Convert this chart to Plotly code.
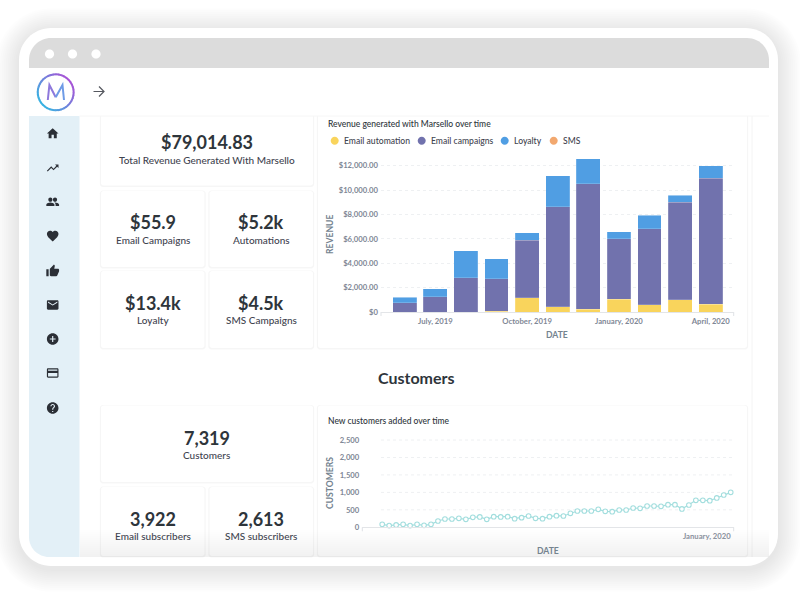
import re
import math
import pandas as pd
import plotly.graph_objects as go

# ---------- data ----------
months = ["June, 2019", "July, 2019", "August, 2019", "September, 2019", "October, 2019", "November, 2019",
          "December, 2019", "January, 2020", "February, 2020", "March, 2020", "April, 2020"]
email_automation = [0, 0, 0, 80, 1170, 430, 220, 1050, 600, 1020, 640]
email_campaigns = [750, 1270, 2800, 2640, 4730, 8190, 10320, 4940, 6230, 7980, 10350]
loyalty = [450, 650, 2230, 1660, 620, 2550, 2040, 610, 1090, 570, 1000]
sms = [0, 0, 0, 0, 0, 0, 0, 0, 0, 0, 0]
revenue_ticks = [0, 2000, 4000, 6000, 8000, 10000, 12000]
revenue_labels = ["$0", "$2,000.00", "$4,000.00", "$6,000.00", "$8,000.00", "$10,000.00", "$12,000.00"]
month_ticks = ["July, 2019", "October, 2019", "January, 2020", "April, 2020"]

weeks = pd.date_range("2019-02-09", periods=51, freq="7D")
new_customers = [86, 48, 67, 86, 48, 86, 57, 86, 181, 238, 238, 258, 229, 286, 296, 229, 305, 296, 305, 248, 277, 324,
                 258, 248, 305, 334, 324, 401, 467, 467, 467, 515, 458, 448, 496, 496, 553, 544, 610, 610, 601, 648,
                 648, 525, 639, 773, 773, 763, 840, 925, 1002]
customer_ticks = [0, 500, 1000, 1500, 2000, 2500]
customer_labels = ["0", "500", "1,000", "1,500", "2,000", "2,500"]

legend_names = ["Email automation", "Email campaigns", "Loyalty", "SMS"]
legend_colors = ["#F9D45C", "#7172AD", "#509EE3", "#F2A86F"]
legend_circle_x = [334.7, 421.7, 504.7, 553.7]

kpis = [("$79,014.83", "Total Revenue Generated With Marsello", 207, 142, 160),
        ("$55.9", "Email Campaigns", 153, 222, 239.5),
        ("$5.2k", "Automations", 261, 222, 239.5),
        ("$13.4k", "Loyalty", 153, 303, 320),
        ("$4.5k", "SMS Campaigns", 261, 303, 320),
        ("7,319", "Customers", 207, 438, 455),
        ("3,922", "Email subscribers", 153, 519, 536),
        ("2,613", "SMS subscribers", 261, 519, 536)]
cards = [(101, 108, 313, 185.5), (101, 191, 204.5, 267), (209.5, 191, 313, 267), (101, 271, 204.5, 348),
         (209.5, 271, 313, 348), (318, 108, 747, 348), (101, 405.5, 313, 482), (101, 487, 204.5, 556),
         (209.5, 487, 313, 556), (318, 405.5, 747, 556)]

# ---------- helpers: page pixels to paper coordinates ----------
W, H = 800, 598
INK = "#2E353B"
MUTED = "#7F8896"
LABEL = "#3F444F"
FONT = "Lato"


def fx(x):
    return x / W


def fy(y):
    return 1 - y / H


def to_paper(d):
    out = []
    for tok in re.findall(r"[MLCZ]|-?\d+\.?\d*", d):
        out.append(tok)
    res, is_x = [], True
    for tok in out:
        if tok in "MLCZ":
            res.append(tok)
            is_x = True
        else:
            v = float(tok)
            res.append(f"{fx(v):.5f}" if is_x else f"{fy(v):.5f}")
            is_x = not is_x
    return " ".join(res)


def rrect(x0, y0, x1, y1, r=0, tl=None, tr=None, br=None, bl=None):
    tl = r if tl is None else tl
    tr = r if tr is None else tr
    br = r if br is None else br
    bl = r if bl is None else bl
    k = 0.45
    return (f"M {x0 + tl} {y0} L {x1 - tr} {y0} C {x1 - tr * k} {y0} {x1} {y0 + tr * k} {x1} {y0 + tr} "
            f"L {x1} {y1 - br} C {x1} {y1 - br * k} {x1 - br * k} {y1} {x1 - br} {y1} "
            f"L {x0 + bl} {y1} C {x0 + bl * k} {y1} {x0} {y1 - bl * k} {x0} {y1 - bl} "
            f"L {x0} {y0 + tl} C {x0} {y0 + tl * k} {x0 + tl * k} {y0} {x0 + tl} {y0} Z")


shapes = []


def add_path(d, fill=None, line=None, lw=0, opacity=1, layer="below"):
    shapes.append(dict(type="path", xref="paper", yref="paper", path=to_paper(d), fillcolor=fill or "rgba(0,0,0,0)",
                       line=dict(color=line or "rgba(0,0,0,0)", width=lw), opacity=opacity, layer=layer))


def circle(cx, cy, r):
    c = 0.5523 * r
    return (f"M {cx + r} {cy} C {cx + r} {cy + c} {cx + c} {cy + r} {cx} {cy + r} "
            f"C {cx - c} {cy + r} {cx - r} {cy + c} {cx - r} {cy} C {cx - r} {cy - c} {cx - c} {cy - r} {cx} {cy - r} "
            f"C {cx + c} {cy - r} {cx + r} {cy - c} {cx + r} {cy} Z")


def icon(d, cx, cy, s=0.58, fill="#2B2F36"):
    toks = re.findall(r"[MLCZ]|-?\d+\.?\d*", d)
    res, is_x = [], True
    for t in toks:
        if t in "MLCZ":
            res.append(t)
            is_x = True
        else:
            v = float(t)
            res.append(f"{cx + (v - 12) * s:.3f}" if is_x else f"{cy + (v - 12) * s:.3f}")
            is_x = not is_x
    add_path(" ".join(res), fill=fill)


# ---------- device chrome ----------
for i in range(12, 0, -1):
    g = i * 1.9
    add_path(rrect(19 - g, 28 - g + 3, 778 + g, 566 + g + 3, 32 + g), fill="#000000", opacity=0.008)
add_path(rrect(19, 28, 778, 566, 32), fill="#FFFFFF")
add_path(rrect(29, 38, 769, 68, 0, tl=22, tr=22), fill="#DCDCDC")
for cx in [49.5, 72.5, 96]:
    add_path(circle(cx, 54, 4.6), fill="#FFFFFF")

# sidebar
add_path(rrect(29, 116, 79.5, 557, 0, bl=20), fill="#E3F0F7")
shapes.append(dict(type="line", xref="paper", yref="paper", x0=fx(752), x1=fx(752), y0=fy(116), y1=fy(557),
                   line=dict(color="#F4F4F4", width=1), layer="below"))

# cards
for (x0, y0, x1, y1) in cards:
    add_path(rrect(x0 - 1.2, y0 - 0.6, x1 + 1.2, y1 + 1.6, 3), fill="#000000", opacity=0.035)
    add_path(rrect(x0, y0, x1, y1, 2.5), fill="#FFFFFF")
# header strip above the cards
add_path(rrect(79.5, 68, 769, 116), fill="#FFFFFF")
shapes.append(dict(type="line", xref="paper", yref="paper", x0=fx(79.5), x1=fx(769), y0=fy(116), y1=fy(116),
                   line=dict(color="#F6F6F6", width=1), layer="below"))

# bottom fade over content
for i in range(14):
    y = 530 + i * 2
    add_path(rrect(79.5, y, 769, 557), fill="#E8E8E8", opacity=0.035, layer="above")

# logo ring
N = 40
for i in range(N):
    a0 = 2 * math.pi * i / N
    a1 = 2 * math.pi * (i + 1.2) / N
    t = (math.sin(a0 - math.pi * 0.25) * -1 + 1) / 2  # 0 near upper right
    c0, c1 = (56, 178, 226), (166, 84, 214)
    col = "rgb(%d,%d,%d)" % tuple(int(c0[k] + (c1[k] - c0[k]) * t) for k in range(3))
    add_path(f"M {55.7 + 18 * math.cos(a0)} {92.3 + 18 * math.sin(a0)} L {55.7 + 18 * math.cos(a1)} {92.3 + 18 * math.sin(a1)}",
             line=col, lw=2)
add_path("M 47.8 100 L 49.4 85 L 55.7 97.3", line="#8E78DC", lw=2)
add_path("M 55.7 97.3 L 62.5 85 L 64 100", line="#6E9BE6", lw=2)

# back arrow
add_path("M 93.5 91.5 L 104 91.5 M 99 86.5 L 104 91.5 L 99 96.5", line="#55585F", lw=1.2)

# nav icons
HOME = "M10 20 L10 14 L14 14 L14 20 L19 20 L19 12 L22 12 L12 3 L2 12 L5 12 L5 20 Z"
TREND = "M16 6 L18.29 8.29 L13.41 13.17 L9.41 9.17 L2 16.59 L3.41 18 L9.41 12 L13.41 16 L19.71 9.71 L22 12 L22 6 Z"
PEOPLE = (circle(8, 8, 3.6) + " " + circle(16, 8, 3.6) +
          " M1 19 L1 16.5 C1 14.2 5.7 13 8 13 C10.3 13 15 14.2 15 16.5 L15 19 Z"
          " M17 19 L23 19 L23 16.5 C23 14.2 18.3 13 16 13 C15.7 13 15.4 13 15 13.1 C16.2 13.9 17 15 17 16.5 Z")
HEART = ("M12 21.35 L10.55 20.03 C5.4 15.36 2 12.28 2 8.5 C2 5.42 4.42 3 7.5 3 C9.24 3 10.91 3.81 12 5.09 "
         "C13.09 3.81 14.76 3 16.5 3 C19.58 3 22 5.42 22 8.5 C22 12.28 18.6 15.36 13.45 20.04 Z")
THUMB = ("M1 21 L5 21 L5 9 L1 9 Z M23 10 C23 8.9 22.1 8 21 8 L14.69 8 L15.64 3.43 L15.67 3.11 C15.67 2.7 15.5 2.32 15.23 2.05 "
         "L14.17 1 L7.59 7.59 C7.22 7.95 7 8.45 7 9 L7 19 C7 20.1 7.9 21 9 21 L18 21 C18.83 21 19.54 20.5 19.84 19.78 "
         "L22.86 12.73 C22.95 12.5 23 12.26 23 12 Z")
MAIL = ("M20 4 L4 4 C2.9 4 2 4.9 2 6 L2 18 C2 19.1 2.9 20 4 20 L20 20 C21.1 20 22 19.1 22 18 L22 6 C22 4.9 21.1 4 20 4 Z "
        "M20 8 L12 13 L4 8 L4 6 L12 11 L20 6 Z")
PLUS = circle(12, 12, 10) + " M13 7 L11 7 L11 11 L7 11 L7 13 L11 13 L11 17 L13 17 L13 13 L17 13 L17 11 L13 11 Z"
CARD = ("M20 4 L4 4 C2.9 4 2 4.9 2 6 L2 18 C2 19.1 2.9 20 4 20 L20 20 C21.1 20 22 19.1 22 18 L22 6 C22 4.9 21.1 4 20 4 Z "
        "M20 18 L4 18 L4 12 L20 12 Z M20 8 L4 8 L4 6 L20 6 Z")
QUESTION = (circle(12, 12, 10) + " M13 19 L11 19 L11 17 L13 17 Z M15.07 11.25 L14.17 12.17 C13.45 12.9 13 13.5 13 15 L11 15 "
            "L11 14.5 C11 13.4 11.45 12.4 12.17 11.67 L13.41 10.41 C13.78 10.05 14 9.55 14 9 C14 7.9 13.1 7 12 7 "
            "C10.9 7 10 7.9 10 9 L8 9 C8 6.79 9.79 5 12 5 C14.21 5 16 6.79 16 9 C16 9.88 15.64 10.68 15.07 11.25 Z")
for d, cy in zip([HOME, TREND, PEOPLE, HEART, THUMB, MAIL, PLUS, CARD, QUESTION],
                 [133.5, 168, 202, 236, 271, 305, 339, 373, 408]):
    icon(d, 52.7, cy)

# legend dots
for cx, col in zip(legend_circle_x, legend_colors):
    add_path(circle(cx, 140.7, 4), fill=col)

# axis end caps
for x, y in [(381, 312), (733.7, 312), (362.3, 527.3), (733.7, 527.3)]:
    shapes.append(dict(type="line", xref="paper", yref="paper", x0=fx(x), x1=fx(x), y0=fy(y), y1=fy(y + 4),
                       line=dict(color="#DFE2E6", width=1), layer="below"))

# customers chart grid: starts at the first point, not at the axis start
for v in customer_ticks[1:]:
    shapes.append(dict(type="line", xref="paper", yref="y2", x0=fx(381), x1=fx(733.7), y0=v, y1=v,
                       line=dict(color="#EEF0F2", width=1, dash="dot"), layer="below"))

# ---------- annotations ----------
ann = []


def text(s, x, y, size, color, weight=400, anchor="center", angle=0):
    ann.append(dict(text=s, x=fx(x), y=fy(y), xref="paper", yref="paper", xanchor=anchor, yanchor="middle",
                    showarrow=False, font=dict(family=FONT, size=size, color=color, weight=weight),
                    borderpad=0, borderwidth=0, textangle=angle))


for value, label, cx, vy, ly in kpis:
    text(value, cx, vy, 18, INK, 700)
    text(label, cx, ly, 10, LABEL, 500)
text("Customers", 416, 377.5, 16, INK, 700)
text("Revenue generated with Marsello over time", 328, 124, 8.5, INK, 500, "left")
text("New customers added over time", 328, 420.5, 8.5, INK, 500, "left")
for name, cx in zip(legend_names, legend_circle_x):
    text(name, cx + 8.8, 140.7, 8.6, LABEL, 500, "left")
text("REVENUE", 330, 235, 8.6, "#74838F", 700, angle=-90)
text("CUSTOMERS", 330, 483, 8.6, "#74838F", 700, angle=-90)
text("DATE", 557, 335, 8.6, "#74838F", 700)
text("DATE", 548, 551, 8.6, "#74838F", 700)

# ---------- traces ----------
fig = go.Figure()
for name, vals, col in zip(legend_names, [email_automation, email_campaigns, loyalty, sms], legend_colors):
    fig.add_trace(go.Bar(x=months, y=vals, name=name, width=0.78, showlegend=False,
                         marker=dict(color=col, line=dict(color="rgba(255,255,255,0.3)", width=0.6)),
                         xaxis="x", yaxis="y"))
fig.add_trace(go.Scatter(x=weeks, y=new_customers, mode="lines+markers", name="Customers", showlegend=False,
                         line=dict(color="#A3DEDE", width=1.2),
                         marker=dict(symbol="circle", size=4.6, color="#FFFFFF", line=dict(color="#A3DEDE", width=1.1)),
                         cliponaxis=False, xaxis="x2", yaxis="y2"))

tick_font = dict(family=FONT, size=7.7, color=MUTED, weight=700)
axis_line = "#E3E5E8"
grid = dict(showgrid=True, gridcolor="#EEF0F2", gridwidth=1, griddash="dot", zeroline=False)

fig.update_layout(
    width=W, height=H, autosize=False, margin=dict(l=0, r=0, t=0, b=0, autoexpand=False),
    paper_bgcolor="#FFFFFF", plot_bgcolor="rgba(0,0,0,0)", barmode="stack", bargap=0.22,
    shapes=shapes, annotations=ann, showlegend=False, font=dict(family=FONT),
    xaxis=dict(domain=[fx(381), fx(733.7)], anchor="y", type="category", categoryorder="array", categoryarray=months,
               range=[-0.775, 10.75], tickmode="array", tickvals=month_ticks, ticktext=month_ticks, ticks="",
               tickfont=tick_font, showline=True, linecolor=axis_line, showgrid=False, zeroline=False,
               ticklabelstandoff=2),
    yaxis=dict(domain=[fy(312), fy(155)], anchor="x", range=[0, 12878], tickmode="array", tickvals=revenue_ticks,
               ticktext=revenue_labels, ticks="", tickfont=tick_font, showline=False, ticklabelstandoff=2, **grid),
    xaxis2=dict(domain=[fx(362.3), fx(733.7)], anchor="y2", type="date", range=["2019-01-20", "2020-01-28"],
                tickmode="array", tickvals=["2020-01-01"], ticktext=["January, 2020"], ticks="", tickfont=tick_font,
                showline=True, linecolor=axis_line, showgrid=False, zeroline=False, ticklabelstandoff=1),
    yaxis2=dict(domain=[fy(527.3), fy(439)], anchor="x2", range=[0, 2529], tickmode="array", tickvals=customer_ticks,
                ticktext=customer_labels, ticks="", tickfont=tick_font, showline=False, ticklabelstandoff=2,
                showgrid=False, zeroline=False),
)

fig.write_html("out.html", config=dict(displayModeBar=False),
               post_script="document.body.style.margin='0';document.body.style.overflow='hidden';")
